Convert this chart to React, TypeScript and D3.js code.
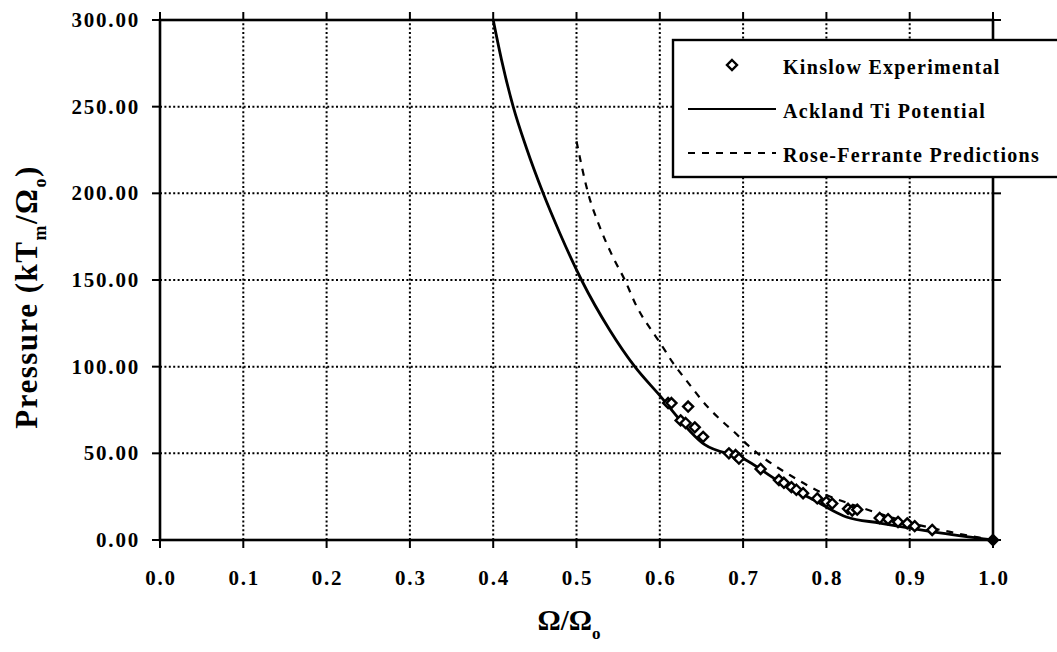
import React, { useRef, useEffect } from "react";
import * as d3 from "d3";

// Kinslow experimental points (Omega/Omega0, pressure)
const expX = [0.61, 0.614, 0.634, 0.625, 0.631, 0.642, 0.652, 0.683, 0.691, 0.695, 0.721, 0.743, 0.749, 0.758, 0.764, 0.772, 0.789, 0.8, 0.807, 0.826, 0.831, 0.837, 0.864, 0.874, 0.886, 0.897, 0.906, 0.927, 1.0];
const expY = [79, 79, 77, 69, 67.5, 65, 59.5, 50, 49, 47, 41, 34.6, 33, 30.5, 29, 27, 24, 22, 21, 18, 17, 17.5, 12.7, 12, 10.4, 9.6, 8, 5.8, 0];

// Ackland Ti potential (solid)
const acklandX = [0.4, 0.41, 0.424, 0.44, 0.46, 0.48, 0.506, 0.54, 0.57, 0.597, 0.654, 0.7, 0.744, 0.785, 0.824, 0.864, 0.9, 0.93, 1.0];
const acklandY = [300, 277, 250, 226, 200, 177, 150, 121, 100, 85, 55, 47, 33.5, 23, 13.3, 9.8, 6.9, 4.6, 0];

// Rose-Ferrante predictions (dashed)
const roseX = [0.5, 0.514, 0.528, 0.544, 0.558, 0.573, 0.59, 0.6, 0.616, 0.632, 0.657, 0.676, 0.69, 0.705, 0.72, 0.756, 0.8, 0.84, 0.9, 0.95, 1.0];
const roseY = [230, 200, 180.5, 163, 150, 134, 121, 114, 102, 92, 77, 68, 62, 55, 49, 37.5, 26, 19, 10, 4.5, 0];

const xTicks = [0, 0.1, 0.2, 0.3, 0.4, 0.5, 0.6, 0.7, 0.8, 0.9, 1.0];
const yTicks = [0, 50, 100, 150, 200, 250, 300];

const legendLabels = ["Kinslow Experimental", "Ackland Ti Potential", "Rose-Ferrante Predictions"];

const FONT = "'Liberation Serif', 'Times New Roman', serif";

const App = () => {
  const ref = useRef<SVGSVGElement>(null);

  useEffect(() => {
    const width = 1057;
    const height = 652;
    const svg = d3.select(ref.current);
    svg.selectAll("*").remove();

    const x = d3.scaleLinear().domain([0, 1]).range([160, 993]);
    const y = d3.scaleLinear().domain([0, 300]).range([540, 20]);

    const g = svg.append("g");

    // dotted grid
    g.selectAll(".vgrid")
      .data(xTicks.slice(1, -1))
      .enter()
      .append("line")
      .attr("x1", (d) => x(d))
      .attr("x2", (d) => x(d))
      .attr("y1", y(0))
      .attr("y2", y(300))
      .attr("stroke", "#000")
      .attr("stroke-width", 2)
      .attr("stroke-dasharray", "2,2.4");
    g.selectAll(".hgrid")
      .data(yTicks.slice(1, -1))
      .enter()
      .append("line")
      .attr("x1", x(0))
      .attr("x2", x(1))
      .attr("y1", (d) => y(d))
      .attr("y2", (d) => y(d))
      .attr("stroke", "#000")
      .attr("stroke-width", 2)
      .attr("stroke-dasharray", "2,2.4");

    // frame
    g.append("rect")
      .attr("x", x(0))
      .attr("y", y(300))
      .attr("width", x(1) - x(0))
      .attr("height", y(0) - y(300))
      .attr("fill", "none")
      .attr("stroke", "#000")
      .attr("stroke-width", 2.6);

    // tick marks
    xTicks.forEach((t) => {
      g.append("line").attr("x1", x(t)).attr("x2", x(t)).attr("y1", y(0)).attr("y2", y(0) + 8)
        .attr("stroke", "#000").attr("stroke-width", 2);
      g.append("line").attr("x1", x(t)).attr("x2", x(t)).attr("y1", y(300)).attr("y2", y(300) - 8)
        .attr("stroke", "#000").attr("stroke-width", 2);
    });
    yTicks.forEach((t) => {
      g.append("line").attr("x1", x(0) - 8).attr("x2", x(0)).attr("y1", y(t)).attr("y2", y(t))
        .attr("stroke", "#000").attr("stroke-width", 2);
      g.append("line").attr("x1", x(1)).attr("x2", x(1) + 8).attr("y1", y(t)).attr("y2", y(t))
        .attr("stroke", "#000").attr("stroke-width", 2);
    });

    // tick labels
    g.selectAll(".xl")
      .data(xTicks)
      .enter()
      .append("text")
      .attr("x", (d) => x(d) + 1)
      .attr("y", 585)
      .attr("text-anchor", "middle")
      .style("font-family", FONT)
      .style("font-weight", "bold")
      .style("font-size", "21px")
      .style("letter-spacing", "1.8px")
      .text((d) => d.toFixed(1));
    g.selectAll(".yl")
      .data(yTicks)
      .enter()
      .append("text")
      .attr("x", 140)
      .attr("y", (d) => y(d) + 7)
      .attr("text-anchor", "end")
      .style("font-family", FONT)
      .style("font-weight", "bold")
      .style("font-size", "21px")
      .style("letter-spacing", "1.8px")
      .text((d) => d.toFixed(2));

    // curves
    const line = d3.line<[number, number]>().x((d) => x(d[0])).y((d) => y(d[1])).curve(d3.curveMonotoneX);
    g.append("path")
      .attr("d", line(roseX.map((v, i) => [v, roseY[i]] as [number, number])))
      .attr("fill", "none")
      .attr("stroke", "#000")
      .attr("stroke-width", 2.2)
      .attr("stroke-dasharray", "7,7");
    g.append("path")
      .attr("d", line(acklandX.map((v, i) => [v, acklandY[i]] as [number, number])))
      .attr("fill", "none")
      .attr("stroke", "#000")
      .attr("stroke-width", 2.8);

    // markers
    const diamond = "M0,-5L5,0L0,5L-5,0Z";
    g.selectAll(".pt")
      .data(expX.map((v, i) => [v, expY[i]]))
      .enter()
      .append("path")
      .attr("d", diamond)
      .attr("transform", (d) => `translate(${x(d[0])},${y(d[1])})`)
      .attr("fill", (d) => (d[0] === 1 ? "#000" : "#fff"))
      .attr("stroke", "#000")
      .attr("stroke-width", 2.4);

    // legend
    const lg = g.append("g");
    lg.append("rect")
      .attr("x", 673)
      .attr("y", 40)
      .attr("width", 400)
      .attr("height", 137)
      .attr("fill", "#fff")
      .attr("stroke", "#000")
      .attr("stroke-width", 2.4);
    lg.append("path").attr("d", diamond).attr("transform", "translate(732,65)")
      .attr("fill", "#fff").attr("stroke", "#000").attr("stroke-width", 2.4);
    lg.append("line").attr("x1", 688).attr("x2", 776).attr("y1", 109).attr("y2", 109)
      .attr("stroke", "#000").attr("stroke-width", 2.2);
    lg.append("line").attr("x1", 688).attr("x2", 776).attr("y1", 153).attr("y2", 153)
      .attr("stroke", "#000").attr("stroke-width", 2.2).attr("stroke-dasharray", "7,7");
    lg.selectAll(".lt")
      .data(legendLabels)
      .enter()
      .append("text")
      .attr("x", 783)
      .attr("y", (d, i) => 74 + i * 44)
      .style("font-family", FONT)
      .style("font-weight", "bold")
      .style("font-size", "20px")
      .style("letter-spacing", "1.3px")
      .text((d) => d);

    // axis titles
    const xt = svg.append("text")
      .attr("x", 569)
      .attr("y", 630)
      .attr("text-anchor", "middle")
      .style("font-family", FONT)
      .style("font-weight", "bold")
      .style("font-size", "29px");
    xt.append("tspan").text("Ω/Ω");
    xt.append("tspan").attr("dy", 9).style("font-size", "17px").text("o");

    const yt = svg.append("text")
      .attr("transform", `translate(37,297) rotate(-90)`)
      .attr("text-anchor", "middle")
      .style("font-family", FONT)
      .style("font-weight", "bold")
      .style("font-size", "31px")
      .style("letter-spacing", "1.5px");
    yt.append("tspan").text("Pressure (kT");
    yt.append("tspan").attr("dy", 9).style("font-size", "18px").text("m");
    yt.append("tspan").attr("dy", -9).text("/Ω");
    yt.append("tspan").attr("dy", 9).style("font-size", "18px").text("o");
    yt.append("tspan").attr("dy", -9).text(")");

    svg.attr("width", width).attr("height", height);
  }, []);

  return (
    <svg
      ref={ref}
      width={1057}
      height={652}
      style={{ position: "absolute", left: 0, top: 0, background: "#fff" }}
    ></svg>
  );
};

export default App;
